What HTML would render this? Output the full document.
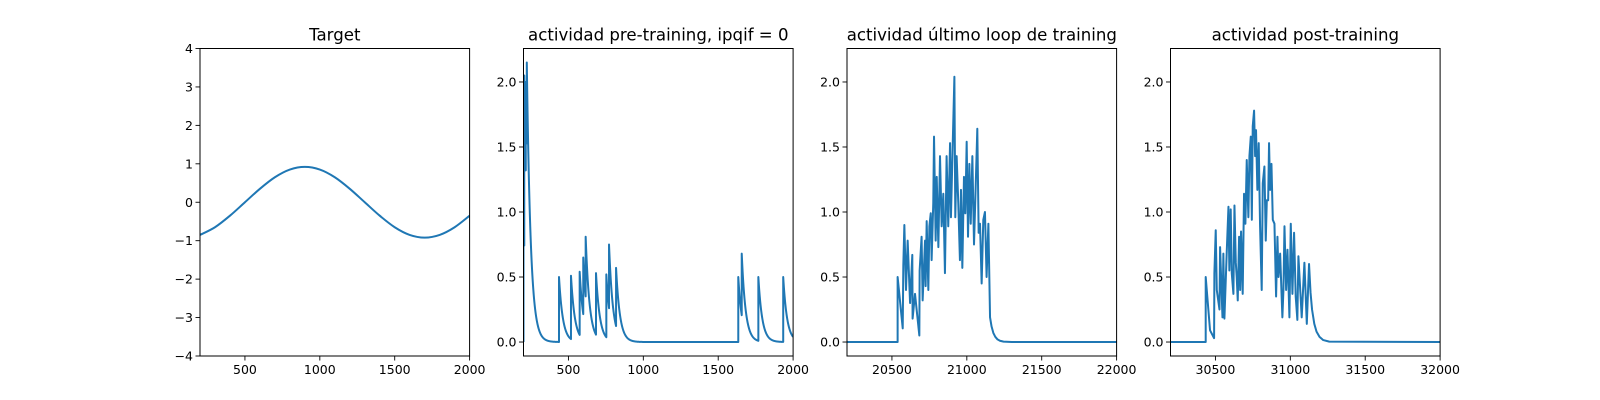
<!DOCTYPE html>
<html><head><meta charset="utf-8"><style>
html,body{margin:0;padding:0;background:#fff}
svg{display:block;font-family:"DejaVu Sans","Liberation Sans",sans-serif}
</style></head><body>
<svg id="fig" width="1600" height="400" viewBox="0 0 1600 400" xmlns="http://www.w3.org/2000/svg"></svg>
<script>
// Panel 1: target
const targetX = [200,300,400,500,600,700,800,900,1000,1100,1200,1300,1400,1500,1600,1700,1800,1900,2000];
const targetY = [-0.85,-0.65,-0.35,0,0.35,0.65,0.85,0.92,0.85,0.65,0.35,0,-0.35,-0.65,-0.85,-0.92,-0.85,-0.65,-0.35];
// Panel 2: spike events (time, peak)
const preSpikeT = [200,205,210,215,222,437,517,575,599,615,684,753,771,818,1634,1657,1768,1934];
const preSpikeV = [0.9,2.05,1.6,2.0,2.15,0.5,0.51,0.54,0.65,0.81,0.53,0.52,0.75,0.57,0.5,0.68,0.5,0.5];
// Panel 3: last training loop
const lastX = [20200,20538,20538,20572,20576,20583,20594,20605,20621,20636,20638,20654,20683,20685,20698,20705,20721,20725,20732,20743,20750,20759,20765,20776,20781,20792,20799,20810,20821,20832,20843,20854,20865,20876,20888,20894,20905,20917,20923,20932,20943,20954,20961,20970,20981,20990,20999,21008,21017,21026,21037,21048,21059,21070,21079,21088,21099,21110,21121,21132,21144,21155,21165,21177,21190,21205,21221,21245,21300,22000];
const lastY = [0,0,0.50,0.105,0.59,0.90,0.40,0.78,0.30,0.67,0.18,0.37,0.05,0.55,0.81,0.32,0.78,0.43,0.93,0.40,0.89,0.99,0.63,1.07,1.58,0.78,1.27,0.73,1.43,0.89,1.14,0.53,1.43,0.89,1.53,0.96,1.48,2.04,0.96,1.43,1.07,0.63,1.17,0.57,1.27,0.99,1.54,0.81,1.37,0.91,1.43,0.75,1.19,1.64,0.84,0.91,0.45,0.94,1.00,0.50,0.91,0.19,0.12,0.07,0.04,0.02,0.01,0.003,0,0];
// Panel 4: post-training
const postX = [30200,30435,30435,30464,30491,30493,30502,30509,30527,30531,30547,30553,30560,30576,30587,30593,30602,30609,30620,30627,30636,30642,30649,30658,30665,30671,30682,30691,30700,30709,30720,30727,30736,30743,30749,30758,30765,30771,30780,30789,30798,30809,30816,30827,30836,30843,30852,30858,30865,30874,30883,30894,30905,30914,30921,30932,30947,30954,30961,30972,30981,30994,31003,31014,31025,31036,31047,31054,31076,31094,31110,31125,31135,31145,31160,31175,31195,31220,31260,32000];
const postY = [0,0,0.50,0.09,0.03,0.53,0.86,0.40,0.25,0.73,0.19,0.68,0.18,0.71,1.04,0.55,1.02,0.53,0.37,1.05,0.61,0.50,0.32,0.81,0.40,0.85,0.37,1.14,0.91,1.40,0.96,1.43,1.58,0.94,1.66,1.78,1.43,1.63,1.17,1.53,0.89,0.40,1.22,1.35,0.78,1.09,1.09,1.53,1.17,1.37,0.94,0.91,0.35,0.81,0.50,0.68,0.19,0.40,0.89,0.40,0.71,0.19,0.91,0.37,0.84,0.35,0.17,0.66,0.19,0.61,0.14,0.60,0.38,0.25,0.14,0.08,0.04,0.015,0.003,0];

const xTicks1 = [500,1000,1500,2000];
const xTicks3 = [20500,21000,21500,22000];
const xTicks4 = [30500,31000,31500,32000];
const yTicks1 = [-4,-3,-2,-1,0,1,2,3,4];
const yTicksA = [0,0.5,1,1.5,2];

const NS = "http://www.w3.org/2000/svg";
const fig = document.getElementById('fig');
function el(tag, attrs, parent){const e=document.createElementNS(NS,tag);for(const k in attrs)e.setAttribute(k,attrs[k]);(parent||fig).appendChild(e);return e;}

const TOP=48.5, BOT=356, W=269.6, GAP=53.9, L0=200;
function makeAxes(i, title, xmin, xmax, ymin, ymax, xt, yt, yfmt, name){
  const left = L0 + i*(W+GAP), right = left+W;
  const g = el('g',{});
  
  
  const sx = v => left + (v-xmin)/(xmax-xmin)*W;
  const sy = v => BOT - (v-ymin)/(ymax-ymin)*(BOT-TOP);
  const t = el('text',{x:(left+right)/2,y:40.5,'text-anchor':'middle','font-size':'16.6',fill:'#000'},g);
  t.textContent = title;
  
  
  xt.forEach(v=>{const x=sx(v);
    el('line',{x1:x,x2:x,y1:BOT,y2:BOT+4.5,stroke:'#000','stroke-width':0.9},g);
    const tx=el('text',{x:x,y:BOT+18,'text-anchor':'middle','font-size':'12.5',fill:'#000'},g);tx.textContent=v;
    
    
  });
  yt.forEach(v=>{const y=sy(v);
    el('line',{x1:left-4.5,x2:left,y1:y,y2:y,stroke:'#000','stroke-width':0.9},g);
    const ty=el('text',{x:left-7,y:y+4.5,'text-anchor':'end','font-size':'12.5',fill:'#000'},g);ty.textContent=yfmt(v);
    
    
  });
  const clip = el('clipPath',{id:'c'+i},g);
  el('rect',{x:left,y:TOP,width:W,height:BOT-TOP},clip);
  return {g,sx,sy,left,right,clipId:'c'+i,
    frame(){const r=el('rect',{x:left,y:TOP,width:W,height:BOT-TOP,fill:'none',stroke:'#000','stroke-width':1},g);
      }};
}
function addLine(ax, xs, ys, name){
  let d='';
  for(let k=0;k<xs.length;k++){d+=(k?'L':'M')+ax.sx(xs[k]).toFixed(2)+' '+ax.sy(ys[k]).toFixed(2);}
  const p=el('path',{d:d,fill:'none',stroke:'#1f77b4','stroke-width':2,'stroke-linejoin':'round','clip-path':'url(#'+ax.clipId+')'},ax.g);
  
  
}
function addSmooth(ax, xs, ys, name){
  const P=xs.map((x,k)=>[ax.sx(x),ax.sy(ys[k])]);
  let d='M'+P[0][0]+' '+P[0][1];
  for(let k=0;k<P.length-1;k++){
    const p0=P[Math.max(0,k-1)],p1=P[k],p2=P[k+1],p3=P[Math.min(P.length-1,k+2)];
    const c1=[p1[0]+(p2[0]-p0[0])/6,p1[1]+(p2[1]-p0[1])/6];
    const c2=[p2[0]-(p3[0]-p1[0])/6,p2[1]-(p3[1]-p1[1])/6];
    d+='C'+c1.join(' ')+' '+c2.join(' ')+' '+p2.join(' ');
  }
  const p=el('path',{d:d,fill:'none',stroke:'#1f77b4','stroke-width':2,'clip-path':'url(#'+ax.clipId+')'},ax.g);
  
  
}
const f1 = v=>String(v).replace('-','\u2212');
const f2 = v=>v.toFixed(1);
const YMIN=-0.1075, YMAX=2.2575;

const a1 = makeAxes(0,'Target',200,2000,-4,4,xTicks1,yTicks1,f1,'target-panel');
addSmooth(a1,targetX,targetY,'target-line');
a1.frame();

const a2 = makeAxes(1,'actividad pre-training, ipqif = 0',200,2000,YMIN,YMAX,xTicks1,yTicksA,f2,'pre-training-panel');
(function(){
  const xs=[],ys=[];let v=0;const tau=26;let si=0;
  for(let t=200;t<=2000;t++){
    v*=Math.exp(-1/tau);
    while(si<preSpikeT.length && preSpikeT[si]<=t){xs.push(t);ys.push(v);v=preSpikeV[si];si++;}
    xs.push(t);ys.push(v);
  }
  addLine(a2,xs,ys,'pre-training-line');
})();
a2.frame();

const a3 = makeAxes(2,'actividad último loop de training',20200,22000,YMIN,YMAX,xTicks3,yTicksA,f2,'last-loop-panel');
addLine(a3,lastX,lastY,'last-loop-line');
a3.frame();

const a4 = makeAxes(3,'actividad post-training',30200,32000,YMIN,YMAX,xTicks4,yTicksA,f2,'post-training-panel');
addLine(a4,postX,postY,'post-training-line');
a4.frame();
</script>
</body></html>
